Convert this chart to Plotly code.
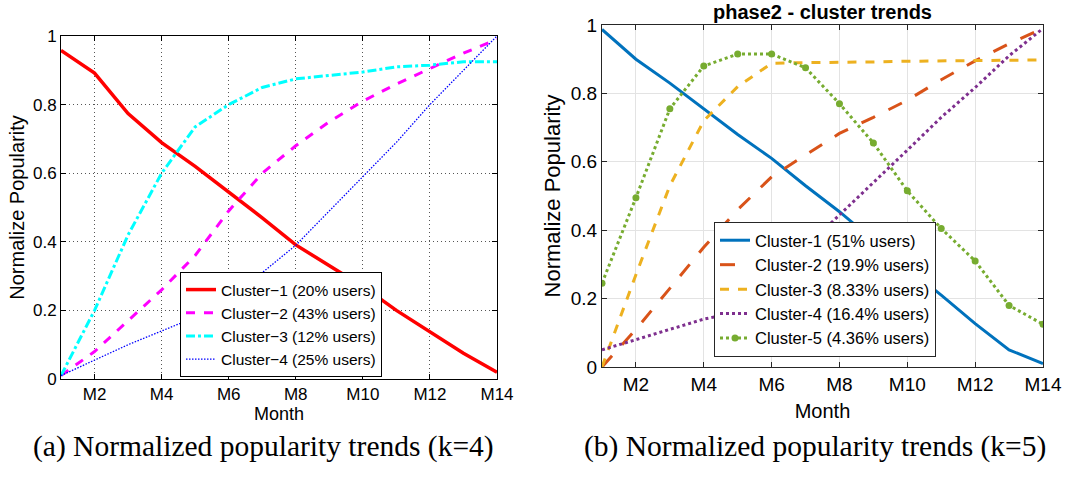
import plotly.graph_objects as go

W, H = 1087, 478

months = list(range(1, 15))
tick_vals = [2, 4, 6, 8, 10, 12, 14]
tick_text = ["M2", "M4", "M6", "M8", "M10", "M12", "M14"]
y_ticks = [0, 0.2, 0.4, 0.6, 0.8, 1]
y_text = ["0", "0.2", "0.4", "0.6", "0.8", "1"]

# (a) k=4
k4_names = ["Cluster\u22121 (20% users)", "Cluster\u22122 (43% users)",
            "Cluster\u22123 (12% users)", "Cluster\u22124 (25% users)"]
k4_c1 = [0.958, 0.892, 0.774, 0.689, 0.62, 0.546, 0.47, 0.391, 0.33, 0.27, 0.20, 0.136, 0.075, 0.02]
k4_c2 = [0.01, 0.08, 0.17, 0.26, 0.36, 0.49, 0.60, 0.68, 0.75, 0.81, 0.86, 0.905, 0.95, 0.99]
k4_c3 = [0.01, 0.20, 0.42, 0.60, 0.735, 0.80, 0.85, 0.875, 0.885, 0.895, 0.91, 0.915, 0.925, 0.925]
k4_c4 = [0.01, 0.055, 0.10, 0.14, 0.18, 0.24, 0.31, 0.39, 0.49, 0.59, 0.69, 0.80, 0.90, 1.0]

# (b) k=5
k5_names = ["Cluster-1 (51% users)", "Cluster-2 (19.9% users)", "Cluster-3 (8.33% users)",
            "Cluster-4 (16.4% users)", "Cluster-5 (4.36% users)"]
k5_c1 = [0.987, 0.90, 0.83, 0.756, 0.68, 0.61, 0.53, 0.454, 0.37, 0.29, 0.21, 0.127, 0.05, 0.01]
k5_c2 = [0.0, 0.11, 0.23, 0.35, 0.46, 0.556, 0.62, 0.683, 0.73, 0.78, 0.84, 0.895, 0.945, 0.99]
k5_c3 = [0.0, 0.27, 0.53, 0.72, 0.82, 0.888, 0.89, 0.89, 0.892, 0.894, 0.895, 0.897, 0.898, 0.898]
k5_c4 = [0.05, 0.08, 0.11, 0.14, 0.16, 0.25, 0.35, 0.444, 0.54, 0.634, 0.73, 0.817, 0.91, 0.99]
k5_c5 = [0.245, 0.495, 0.755, 0.88, 0.915, 0.915, 0.875, 0.77, 0.655, 0.515, 0.405, 0.31, 0.18, 0.125]

captions = ["(a) Normalized popularity trends (k=4)", "(b) Normalized popularity trends (k=5)"]


def px_x(v):
    return v / W


def px_y(v):
    return 1 - v / H


fig = go.Figure()

left_styles = [
    dict(color="#FF0000", width=3.5, dash="solid"),
    dict(color="#FF00FF", width=3, dash="dash"),
    dict(color="#00FFFF", width=3, dash="dashdot"),
    dict(color="#0000FF", width=1.3, dash="1.5px,1.5px"),
]
for name, ys, st in zip(k4_names, [k4_c1, k4_c2, k4_c3, k4_c4], left_styles):
    fig.add_trace(go.Scatter(x=months, y=ys, mode="lines", name=name, line=st,
                             xaxis="x", yaxis="y", legend="legend"))

right_styles = [
    dict(color="#0072BD", width=3, dash="solid"),
    dict(color="#D95319", width=3, dash="longdash"),
    dict(color="#EDB120", width=3, dash="dash"),
    dict(color="#7E2F8E", width=3, dash="dot"),
    dict(color="#77AC30", width=3, dash="dot"),
]
for i, (name, ys, st) in enumerate(zip(k5_names, [k5_c1, k5_c2, k5_c3, k5_c4, k5_c5], right_styles)):
    fig.add_trace(go.Scatter(
        x=months, y=ys, mode="lines+markers" if i == 4 else "lines", name=name, line=st,
        marker=dict(size=7, color="#77AC30"), xaxis="x2", yaxis="y2", legend="legend2"))

sans = "Liberation Sans, Arial, sans-serif"
serif = "Liberation Serif, DejaVu Serif, serif"


def xax(domain, anchor, size, linecolor, standoff):
    return dict(domain=domain, anchor=anchor, range=[1, 14], tickvals=tick_vals, ticktext=tick_text,
                ticks="inside", ticklen=5, tickcolor=linecolor, showline=True, linecolor=linecolor,
                mirror="ticks", zeroline=False, automargin=False,
                tickfont=dict(family=sans, size=size, color="black"),
                title=dict(text="Month", font=dict(family=sans, size=size + 1, color="black"),
                           standoff=standoff))


def yax(domain, anchor, size, linecolor, standoff):
    return dict(domain=domain, anchor=anchor, range=[0, 1], tickvals=y_ticks, ticktext=y_text,
                ticks="inside", ticklen=5, tickcolor=linecolor, showline=True, linecolor=linecolor,
                mirror="ticks", zeroline=False, automargin=False,
                tickfont=dict(family=sans, size=size, color="black"),
                title=dict(text="Normalize Popularity", font=dict(family=sans, size=size + 3, color="black"),
                           standoff=standoff))


xa1 = xax([px_x(61), px_x(497)], "y", 17, "black", 2)
ya1 = yax([px_y(379), px_y(36)], "x", 17, "black", 2)
for a in (xa1, ya1):
    a.update(showgrid=True, gridcolor="#555555", griddash="1px,3px", gridwidth=1)
xa2 = xax([px_x(602), px_x(1043)], "y2", 19, "#262626", 10)
ya2 = yax([px_y(367), px_y(25)], "x2", 19, "#262626", 4)
for a in (xa2, ya2):
    a.update(showgrid=True, gridcolor="#E3E3E3", gridwidth=1)

fig.update_layout(
    width=W, height=H, margin=dict(l=0, r=0, t=0, b=0),
    plot_bgcolor="white", paper_bgcolor="white",
    xaxis=xa1, yaxis=ya1, xaxis2=xa2, yaxis2=ya2,
    legend=dict(x=px_x(180), y=px_y(377), xanchor="left", yanchor="bottom", bgcolor="white",
                bordercolor="black", borderwidth=1, font=dict(family=sans, size=15.5, color="black"),
                tracegroupgap=0, itemwidth=30),
    legend2=dict(x=px_x(714), y=px_y(357), xanchor="left", yanchor="bottom", bgcolor="white",
                 bordercolor="#262626", borderwidth=1, font=dict(family=sans, size=16.5, color="black"),
                 tracegroupgap=0, itemwidth=30),
    annotations=[
        dict(text="<b>phase2 - cluster trends</b>", x=px_x(822), y=px_y(12), xref="paper", yref="paper",
             xanchor="center", yanchor="middle", showarrow=False,
             font=dict(family=sans, size=20, color="black")),
        dict(text=captions[0], x=px_x(263), y=px_y(446), xref="paper", yref="paper", showarrow=False,
             xanchor="center", yanchor="middle", font=dict(family=serif, size=29.5, color="black")),
        dict(text=captions[1], x=px_x(815), y=px_y(446), xref="paper", yref="paper", showarrow=False,
             xanchor="center", yanchor="middle", font=dict(family=serif, size=29.5, color="black")),
    ],
)

# drop the default 8px body margin so the figure sits at the page corner
fig.write_html("out.html", config={"displayModeBar": False},
               post_script="document.body.style.margin = '0';")
